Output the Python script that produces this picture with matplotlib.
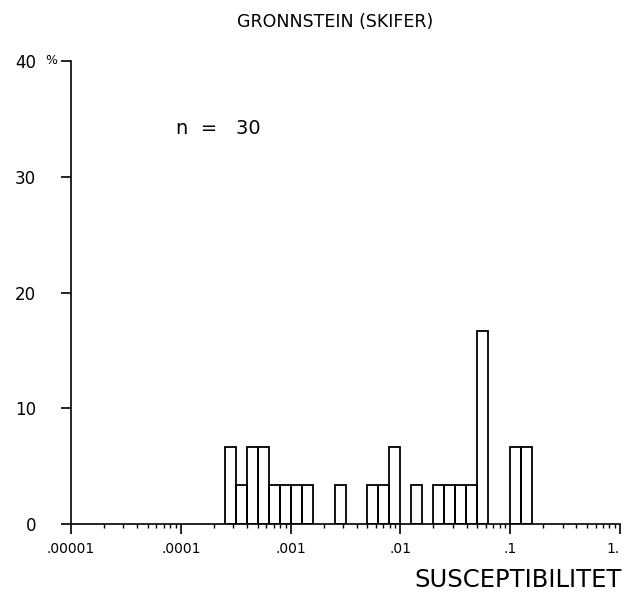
import numpy as np
import matplotlib
matplotlib.use('Agg')
import matplotlib.pyplot as plt
from matplotlib.ticker import LogLocator, NullFormatter, FixedLocator

# histogram: left edge of each class (log10 of susceptibility)
# and number of samples in it, classes are 0.1 decade wide
bin_lo = [-3.6, -3.5, -3.4, -3.3, -3.2, -3.1, -3.0, -2.9, -2.6,
          -2.3, -2.2, -2.1, -1.9, -1.7, -1.6, -1.5, -1.4, -1.3,
          -1.0, -0.9]
counts = [2, 1, 2, 2, 1, 1, 1, 1, 1,
          1, 1, 2, 1, 1, 1, 1, 1, 5,
          2, 2]
bin_w = 0.1
n = 30

x_ticks = [1e-5, 1e-4, 1e-3, 1e-2, 1e-1, 1.0]
x_labels = ['.00001', '.0001', '.001', '.01', '.1', '1.']
y_ticks = [0, 10, 20, 30, 40]
y_labels = ['0', '10', '20', '30', '40']

title = 'GRONNSTEIN (SKIFER)'
xlabel = 'SUSCEPTIBILITET'


def plot():
    fig = plt.figure(figsize=(6.24, 5.98), dpi=100)
    ax = fig.add_axes([0.1138, 0.1237, 0.8798, 0.7743])

    lo = 10 ** np.array(bin_lo)
    hi = 10 ** (np.array(bin_lo) + bin_w)
    pct = np.array(counts) / n * 100.0
    ax.bar(lo, pct, width=hi - lo, align='edge', fill=False,
           edgecolor='black', linewidth=1.3)

    ax.set_xscale('log')
    ax.set_xlim(1e-5, 1.0)
    ax.set_ylim(0, 40)

    ax.spines['top'].set_visible(False)
    ax.spines['right'].set_visible(False)
    ax.spines['left'].set_linewidth(1.2)
    ax.spines['bottom'].set_linewidth(1.2)

    ax.xaxis.set_major_locator(FixedLocator(x_ticks))
    ax.set_xticklabels(x_labels)
    ax.xaxis.set_minor_locator(LogLocator(base=10, subs=np.arange(2, 10)))
    ax.xaxis.set_minor_formatter(NullFormatter())
    ax.set_yticks(y_ticks)
    ax.set_yticklabels(y_labels)

    ax.tick_params(axis='x', which='major', direction='out', length=7,
                   width=1.2, pad=6, labelsize=10)
    ax.tick_params(axis='x', which='minor', direction='out', length=3,
                   width=1.0)
    ax.tick_params(axis='y', which='major', direction='out', length=7,
                   width=1.2, pad=18, labelsize=12)
    ax.tick_params(axis='y', which='minor', left=False)
    ax.get_xticklabels()[-1].set_horizontalalignment('right')

    # percent sign after the top label
    ax.text(-0.047, 40, '%', transform=ax.get_yaxis_transform(),
            ha='left', va='center', fontsize=9)

    fig.text(0.537, 0.963, title, ha='center', va='center', fontsize=12.5)
    ax.text(0.192, 0.855, 'n  =   %d' % n, transform=ax.transAxes,
            ha='left', va='center', fontsize=14)
    fig.text(0.997, 0.030, xlabel, ha='right', va='center', fontsize=17.5)

    fig.savefig('out.png', dpi=100)


if __name__ == '__main__':
    plot()
